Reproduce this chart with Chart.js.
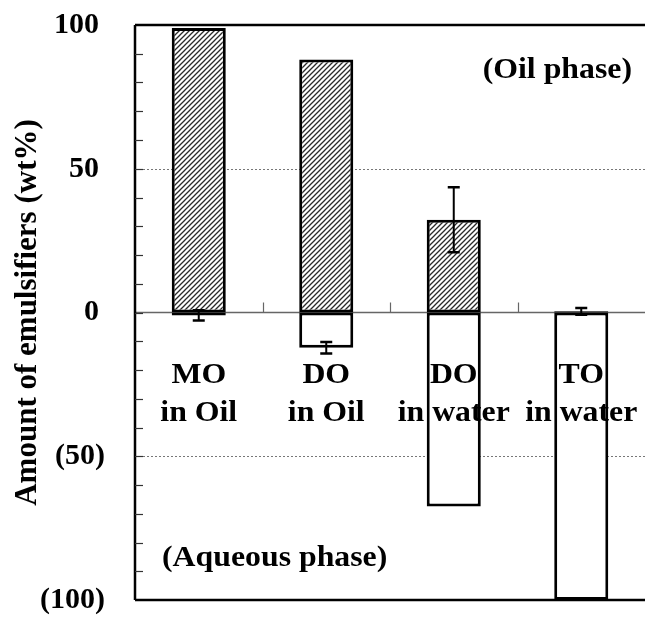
<!DOCTYPE html>
<html>
<head>
<meta charset="utf-8">
<script src="https://cdn.jsdelivr.net/npm/chart.js@4.4.0/dist/chart.umd.min.js"></script>
<style>
  html, body { margin: 0; padding: 0; background: #fff; overflow: hidden; }
</style>
</head>
<body>
<canvas id="emulsifierChart" width="645" height="617"></canvas>
<script>
// Emulsifier distribution between oil phase (positive) and aqueous phase (negative)
var samples = [['MO', 'in Oil'], ['DO', 'in Oil'], ['DO', 'in water'], ['TO', 'in water']];
var oilPhase = [99, 88, 32.3, 0.4];
var oilError = [0, 0, 11.3, 1.2];
var aqueousPhase = [-1, -12.3, -67.5, -100];
var aqueousError = [1.8, 2, 0, 0];
var yTicks = [-100, -50, 0, 50, 100];
var yTickLabels = ['(100)', '(50)', '0', '50', '100'];
var gridValues = [50, -50];

var FONT = '"Liberation Serif", "Times New Roman", serif';

// Diagonal hatch used for the oil phase bars
function makeHatch() {
    var s = 5;
    var c = document.createElement('canvas');
    c.width = s; c.height = s;
    var g = c.getContext('2d');
    g.fillStyle = '#fff';
    g.fillRect(0, 0, s, s);
    g.strokeStyle = '#2a2a2a';
    g.lineWidth = 1.3;
    g.beginPath();
    g.moveTo(0, s); g.lineTo(s, 0);
    g.moveTo(-1, 1); g.lineTo(1, -1);
    g.moveTo(s - 1, s + 1); g.lineTo(s + 1, s - 1);
    g.stroke();
    return g.createPattern(c, 'repeat');
}

// bold serif text, slightly widened
function drawText(ctx, text, x, y, align) {
    ctx.save();
    ctx.translate(x, y);
    ctx.scale(1.06, 1);
    ctx.textAlign = align;
    ctx.fillText(text, 0, 0);
    ctx.restore();
}

// Dotted grid, zero line and category ticks under the bars
var framePlugin = {
    id: 'frame',
    beforeDatasetsDraw: function(chart) {
        var ctx = chart.ctx, area = chart.chartArea;
        var y = chart.scales.y, x = chart.scales.x;
        ctx.save();
        ctx.strokeStyle = '#777';
        ctx.lineWidth = 1;
        ctx.setLineDash([2, 2]);
        gridValues.forEach(function(v) {
            var py = Math.round(y.getPixelForValue(v)) + 0.5;
            ctx.beginPath();
            ctx.moveTo(area.left, py);
            ctx.lineTo(area.right, py);
            ctx.stroke();
        });
        ctx.setLineDash([]);

        var zero = y.getPixelForValue(0);
        ctx.strokeStyle = '#666';
        ctx.lineWidth = 1.5;
        ctx.beginPath();
        ctx.moveTo(area.left, zero);
        ctx.lineTo(area.right, zero);
        ctx.stroke();

        // tick marks between categories, pointing up from the zero line
        ctx.lineWidth = 1.2;
        for (var i = 0; i < samples.length - 1; i++) {
            var bx = Math.round((x.getPixelForValue(i) + x.getPixelForValue(i + 1)) / 2) + 0.5;
            ctx.beginPath();
            ctx.moveTo(bx, zero);
            ctx.lineTo(bx, zero - 10);
            ctx.stroke();
        }
        ctx.restore();
    },
    afterDatasetsDraw: function(chart) {
        var ctx = chart.ctx, area = chart.chartArea;
        var y = chart.scales.y, x = chart.scales.x;
        ctx.save();
        ctx.strokeStyle = '#000';
        ctx.lineWidth = 2.5;
        ctx.beginPath();
        ctx.moveTo(area.left, area.top);
        ctx.lineTo(area.left, area.bottom);
        ctx.moveTo(area.left, area.top);
        ctx.lineTo(area.right, area.top);
        ctx.moveTo(area.left, area.bottom);
        ctx.lineTo(area.right, area.bottom);
        ctx.stroke();

        // minor ticks every 10 units, inside the plot
        ctx.lineWidth = 1.2;
        ctx.strokeStyle = '#333';
        for (var v = y.min + 10; v < y.max; v += 10) {
            var py = Math.round(y.getPixelForValue(v)) + 0.5;
            ctx.beginPath();
            ctx.moveTo(area.left, py);
            ctx.lineTo(area.left + 8, py);
            ctx.stroke();
        }

        ctx.fillStyle = '#000';
        ctx.font = 'bold 30px ' + FONT;
        ctx.textBaseline = 'alphabetic';

        var zero = y.getPixelForValue(0);
        samples.forEach(function(lines, i) {
            var cx = x.getPixelForValue(i);
            drawText(ctx, lines[0], cx, zero + 70, 'center');
            drawText(ctx, lines[1], cx, zero + 108, 'center');
        });

        drawText(ctx, '(Oil phase)', area.right - 13, area.top + 53, 'right');
        drawText(ctx, '(Aqueous phase)', area.left + 27, area.bottom - 34, 'left');
        ctx.restore();
    }
};

// Error bars from the error arrays
var errorBarPlugin = {
    id: 'errorBars',
    afterDatasetsDraw: function(chart) {
        var ctx = chart.ctx, y = chart.scales.y;
        var errors = [oilError, aqueousError];
        ctx.save();
        ctx.strokeStyle = '#000';
        chart.data.datasets.forEach(function(ds, di) {
            var meta = chart.getDatasetMeta(di);
            ds.data.forEach(function(val, i) {
                var err = errors[di][i];
                if (!err) return;
                var cx = meta.data[i].x;
                var top = y.getPixelForValue(val + err);
                var bot = y.getPixelForValue(val - err);
                ctx.lineWidth = 2;
                ctx.beginPath();
                ctx.moveTo(cx, top);
                ctx.lineTo(cx, bot);
                ctx.stroke();
                ctx.lineWidth = 2.5;
                ctx.beginPath();
                ctx.moveTo(cx - 6, top); ctx.lineTo(cx + 6, top);
                ctx.moveTo(cx - 6, bot); ctx.lineTo(cx + 6, bot);
                ctx.stroke();
            });
        });
        ctx.restore();
    }
};

var ctx = document.getElementById('emulsifierChart').getContext('2d');
var emulsifierChart = new Chart(ctx, {
    type: 'bar',
    data: {
        labels: samples,
        datasets: [{
            label: 'Oil phase',
            data: oilPhase,
            backgroundColor: makeHatch(),
            borderColor: '#000',
            borderWidth: 3,
            borderSkipped: false
        }, {
            label: 'Aqueous phase',
            data: aqueousPhase,
            backgroundColor: '#fff',
            borderColor: '#000',
            borderWidth: 3,
            borderSkipped: false
        }]
    },
    options: {
        responsive: false,
        animation: false,
        layout: { padding: { top: 25, bottom: 17, left: 0, right: 0 } },
        plugins: {
            legend: { display: false },
            tooltip: { enabled: false }
        },
        datasets: {
            bar: { categoryPercentage: 1, barPercentage: 0.424 }
        },
        scales: {
            x: {
                stacked: true,
                display: false
            },
            y: {
                stacked: true,
                min: -100,
                max: 100,
                afterFit: function(scale) {
                    scale.width = 135;
                    scale.paddingTop = 0;
                    scale.paddingBottom = 0;
                },
                afterBuildTicks: function(scale) {
                    scale.ticks = yTicks.map(function(v) { return { value: v }; });
                },
                grid: { display: false, drawTicks: false },
                border: { display: false },
                ticks: {
                    padding: 30,
                    color: '#000',
                    font: { family: FONT, size: 30, weight: 'bold' },
                    callback: function(value) {
                        var s = yTickLabels[yTicks.indexOf(value)];
                        return value >= 0 ? s + '\u2009' : s;
                    }
                },
                title: {
                    display: true,
                    text: 'Amount of emulsifiers (wt%)',
                    color: '#000',
                    padding: { top: 9, bottom: 0 },
                    font: { family: FONT, size: 31, weight: 'bold' }
                }
            }
        }
    },
    plugins: [framePlugin, errorBarPlugin]
});
</script>
</body>
</html>
